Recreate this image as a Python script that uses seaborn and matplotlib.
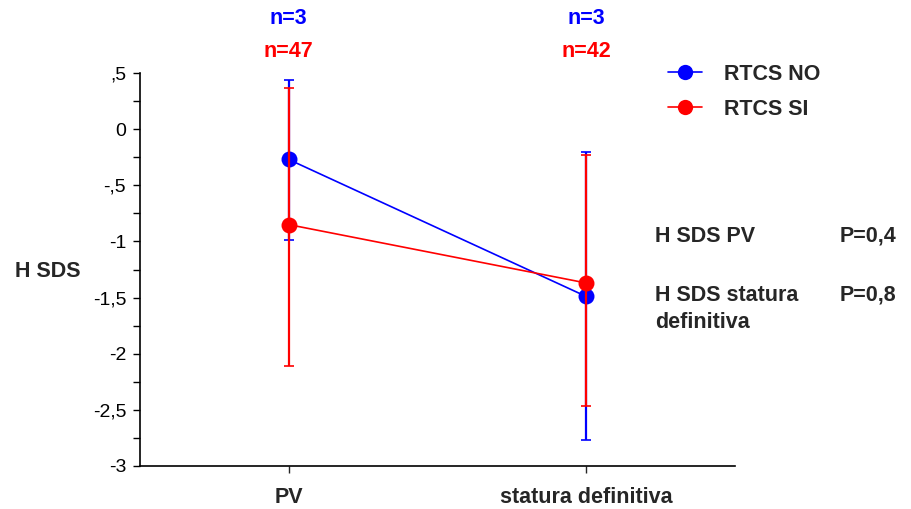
import matplotlib
matplotlib.use('Agg')
import matplotlib.pyplot as plt
import seaborn as sns
import numpy as np
import pandas as pd
from matplotlib.lines import Line2D

# data
categories = ['PV', 'statura definitiva']
groups = ['RTCS NO', 'RTCS SI']
colors = ['#0000ff', '#ff0000']
means_no = [-0.27, -1.49]
low_no = [-0.99, -2.77]
high_no = [0.44, -0.20]
means_si = [-0.85, -1.37]
low_si = [-2.11, -2.47]
high_si = [0.37, -0.23]
n_no = [3, 3]
n_si = [47, 42]
yticks = [0.5, 0, -0.5, -1, -1.5, -2, -2.5, -3]
ytick_labels = [',5', '0', '-,5', '-1', '-1,5', '-2', '-2,5', '-3']
pvalues = [('H SDS PV', 'P=0,4'), ('H SDS statura\ndefinitiva', 'P=0,8')]

sns.set_style('ticks')
plt.rcParams['font.family'] = ['Liberation Sans', 'DejaVu Sans']

BOLD = 15.5
TICK = 14

df = pd.DataFrame({
    'fase': categories * 2,
    'sds': means_no + means_si,
    'gruppo': [groups[0]] * 2 + [groups[1]] * 2,
})

fig = plt.figure(figsize=(9.11, 5.09), dpi=100)
ax = fig.add_axes([0.1537, 0.0845, 0.653, 0.772])

xpos = np.arange(len(categories))
series = [(means_no, low_no, high_no), (means_si, low_si, high_si)]
for i, (m, lo, hi) in enumerate(series):
    m = np.array(m)
    yerr = [m - np.array(lo), np.array(hi) - m]
    ax.errorbar(xpos, m, yerr=yerr, fmt='none', ecolor=colors[i],
                elinewidth=1.6, capsize=3.3, capthick=1.2, zorder=2 + 2 * i)
    sub = df[df['gruppo'] == groups[i]]
    sns.lineplot(x=xpos, y=sub['sds'].values, ax=ax, color=colors[i],
                 marker='o', markersize=11.5, markeredgewidth=0,
                 linewidth=1.2, zorder=3 + 2 * i)

ax.set_xlim(-0.5, 1.5)
ax.set_ylim(-3, 0.5)
ax.set_xticks(xpos)
ax.set_xticklabels(categories, fontsize=BOLD, fontweight='bold')
ax.set_yticks(yticks)
ax.set_yticklabels(ytick_labels, fontsize=TICK)
ax.set_yticks(np.arange(-2.75, 0.5, 0.5), minor=True)
ax.tick_params(axis='y', which='both', length=5, width=1, colors='black', pad=5)
ax.tick_params(axis='x', length=5, width=1, pad=10)
ax.spines['top'].set_visible(False)
ax.spines['right'].set_visible(False)
for s in ['left', 'bottom']:
    ax.spines[s].set_linewidth(1.2)
    ax.spines[s].set_color('black')
ax.set_xlabel('')
ax.set_ylabel('H SDS', fontsize=BOLD, fontweight='bold', rotation=0,
              ha='center', va='center')
ax.yaxis.set_label_coords(-0.155, 0.496)

# n labels above the plot
for j in range(len(categories)):
    ax.annotate(f'n={n_no[j]}', xy=(xpos[j], 1), xycoords=('data', 'axes fraction'),
                xytext=(0, 39), textcoords='offset points', ha='center',
                va='center', color=colors[0], fontsize=BOLD, fontweight='bold',
                annotation_clip=False)
    ax.annotate(f'n={n_si[j]}', xy=(xpos[j], 1), xycoords=('data', 'axes fraction'),
                xytext=(0, 15.5), textcoords='offset points', ha='center',
                va='center', color=colors[1], fontsize=BOLD, fontweight='bold',
                annotation_clip=False)

handles = [Line2D([], [], color=c, marker='o', markersize=11,
                  markeredgewidth=0, linewidth=1.2) for c in colors]
leg = fig.legend(handles, groups, loc='upper left', bbox_to_anchor=(0.733, 0.875),
                 frameon=False, prop={'weight': 'bold', 'size': BOLD},
                 handlelength=1.6, handletextpad=1.0, labelspacing=0.65,
                 borderpad=0, borderaxespad=0)

fig.text(0.719, 1 - 236 / 509, pvalues[0][0], fontsize=BOLD, fontweight='bold',
         va='center')
fig.text(0.922, 1 - 236 / 509, pvalues[0][1], fontsize=BOLD, fontweight='bold',
         va='center')
fig.text(0.719, 1 - 285 / 509, pvalues[1][0], fontsize=BOLD, fontweight='bold',
         va='top', linespacing=1.4)
fig.text(0.922, 1 - 285 / 509, pvalues[1][1], fontsize=BOLD, fontweight='bold',
         va='top')

fig.savefig('out.png', dpi=100)
